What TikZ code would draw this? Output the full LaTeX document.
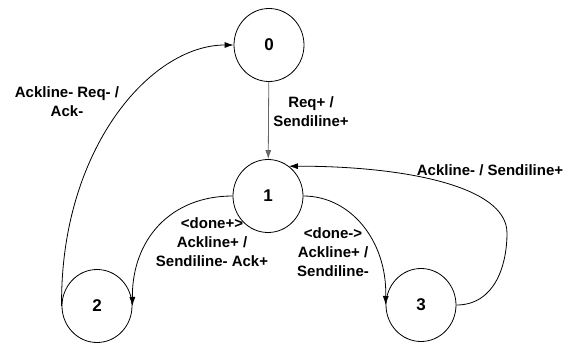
\documentclass[tikz,border=0pt]{standalone}
\usepackage{fontspec}
\setmainfont{Liberation Sans}
\usetikzlibrary{arrows.meta,shapes.geometric}

\begin{document}
\begin{tikzpicture}[x=1pt,y=-1pt]
\tikzset{state/.style={draw,ellipse,line width=0.8pt,minimum width=70pt,minimum height=73pt,inner sep=0pt,font=\fontsize{17}{17}\selectfont\bfseries},
  lbl/.style={align=center,inner sep=0pt,font=\fontsize{15}{19}\selectfont\bfseries},
  trans/.style={line width=0.8pt,-{Latex[length=9pt,width=6pt]}}}
\useasboundingbox (0,0) rectangle (576,343);
% states
\node[state] (s0) at (269,45) {0};
\node[state] (s1) at (268,196) {1};
\node[state] (s2) at (97,306) {2};
\node[state] (s3) at (421,305) {3};
% transitions
\draw[trans,draw=black!60] (s0) -- (s1);
\draw[trans] (s2.west) .. controls (60,150) and (150,45) .. (s0.west);
\draw[trans] (s1.west) .. controls (170,196) and (132,240) .. (s2.east);
\draw[trans] (s1.east) .. controls (350,196) and (387,240) .. (s3.west);
\draw[trans] (s3.east) .. controls (495,305) and (507,265) .. (507,233) .. controls (507,185) and (400,166) .. (s1.55);
% labels
\node[lbl] (l01) at (311,112) {Req+ /\\Sendiline+};
\node[lbl] (l20) at (67,102) {Ackline- Req- /\\Ack-};
\node[lbl] (l12) at (212,242) {<done+>\\Ackline+ /\\Sendiline- Ack+};
\node[lbl] (l13) at (333,252) {<done->\\Ackline+ /\\Sendiline-};
\node[lbl] (l31) at (490,170) {Ackline- / Sendiline+};
\end{tikzpicture}
\end{document}
